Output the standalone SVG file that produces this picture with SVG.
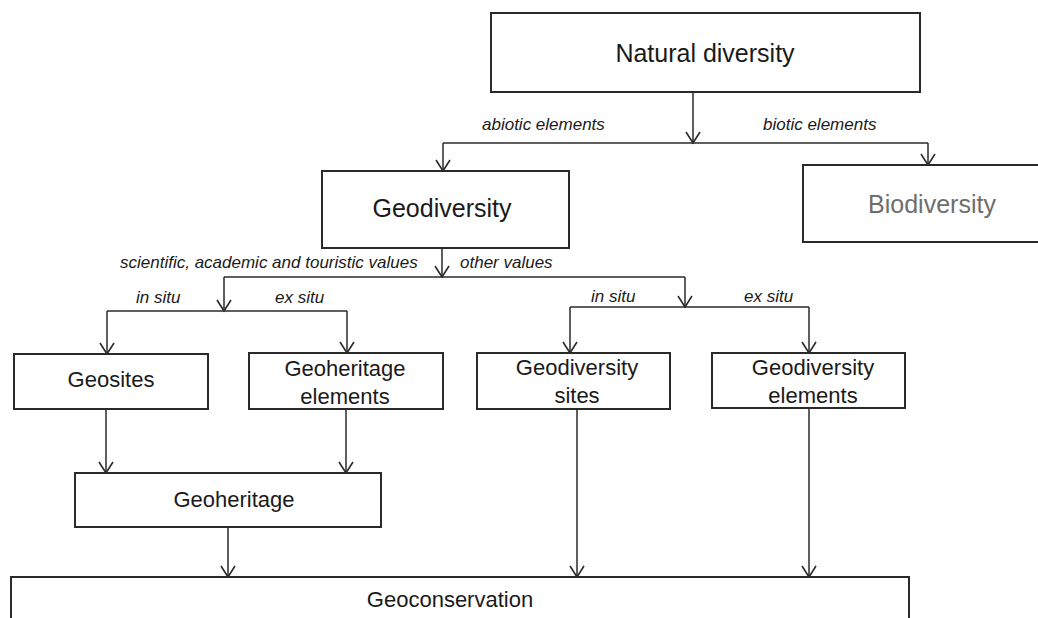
<svg xmlns="http://www.w3.org/2000/svg" width="1038" height="618" viewBox="0 0 1038 618">
<style>
.box{fill:#fff;stroke:#2a2a2a;stroke-width:2}
.t{font-family:"Liberation Sans",Arial,sans-serif;fill:#1a1a1a;text-anchor:middle}
.big{font-size:25px}
.sm{font-size:22px}
.lbl{font-family:"Liberation Sans",Arial,sans-serif;font-style:italic;font-size:17px;fill:#1a1a1a}
.c{fill:none;stroke:#2a2a2a;stroke-width:1.5}
</style>
<defs>
<marker id="ah" markerUnits="userSpaceOnUse" markerWidth="30" markerHeight="30" refX="0" refY="0" orient="auto" overflow="visible">
<path d="M-11,-7 L0,0 L-11,7" fill="none" stroke="#2a2a2a" stroke-width="1.6"/>
</marker>
</defs>
<rect width="1038" height="618" fill="#fff"/>
<g id="connectors">
<path class="c" d="M693,92 V143" marker-end="url(#ah)"/>
<path class="c" d="M443,143 H928"/>
<path class="c" d="M443,143 V171" marker-end="url(#ah)"/>
<path class="c" d="M928,143 V165" marker-end="url(#ah)"/>
<path class="c" d="M442,248 V277" marker-end="url(#ah)"/>
<path class="c" d="M224,277 H685"/>
<path class="c" d="M224,277 V311" marker-end="url(#ah)"/>
<path class="c" d="M107,311 H347"/>
<path class="c" d="M107,311 V354" marker-end="url(#ah)"/>
<path class="c" d="M347,311 V353" marker-end="url(#ah)"/>
<path class="c" d="M685,277 V307" marker-end="url(#ah)"/>
<path class="c" d="M570,307 H809"/>
<path class="c" d="M570,307 V353" marker-end="url(#ah)"/>
<path class="c" d="M809,307 V353" marker-end="url(#ah)"/>
<path class="c" d="M106,409 V473" marker-end="url(#ah)"/>
<path class="c" d="M346,409 V473" marker-end="url(#ah)"/>
<path class="c" d="M228,527 V577" marker-end="url(#ah)"/>
<path class="c" d="M577,409 V577" marker-end="url(#ah)"/>
<path class="c" d="M809,408 V577" marker-end="url(#ah)"/>
<text class="lbl" x="482" y="130">abiotic elements</text>
<text class="lbl" x="763" y="130">biotic elements</text>
<text class="lbl" x="120" y="268">scientific, academic and touristic values</text>
<text class="lbl" x="460" y="268">other values</text>
<text class="lbl" x="136" y="303">in situ</text>
<text class="lbl" x="275" y="303">ex situ</text>
<text class="lbl" x="591" y="302">in situ</text>
<text class="lbl" x="744" y="302">ex situ</text>
</g>
<g id="natural-diversity">
<rect class="box" x="491" y="13" width="429" height="79"/>
<text class="t big" x="705" y="62">Natural diversity</text>
</g>
<g id="geodiversity">
<rect class="box" x="322" y="171" width="247" height="77"/>
<text class="t big" x="442" y="217">Geodiversity</text>
</g>
<g id="biodiversity">
<rect class="box" x="803" y="165" width="245" height="77"/>
<text class="t big" x="932" y="213" style="fill:#6e6e6e">Biodiversity</text>
</g>
<g id="geosites">
<rect class="box" x="14" y="354" width="194" height="55"/>
<text class="t sm" x="111" y="387">Geosites</text>
</g>
<g id="geoheritage-elements">
<rect class="box" x="249" y="353" width="194" height="56"/>
<text class="t sm" x="345" y="376">Geoheritage</text>
<text class="t sm" x="345" y="404">elements</text>
</g>
<g id="geodiversity-sites">
<rect class="box" x="477" y="353" width="193" height="56"/>
<text class="t sm" x="577" y="375">Geodiversity</text>
<text class="t sm" x="577" y="403">sites</text>
</g>
<g id="geodiversity-elements">
<rect class="box" x="712" y="353" width="193" height="55"/>
<text class="t sm" x="813" y="375">Geodiversity</text>
<text class="t sm" x="813" y="403">elements</text>
</g>
<g id="geoheritage">
<rect class="box" x="75" y="473" width="306" height="54"/>
<text class="t sm" x="234" y="507">Geoheritage</text>
</g>
<g id="geoconservation">
<rect class="box" x="11" y="577" width="898" height="60"/>
<text class="t sm" x="450" y="607">Geoconservation</text>
</g>
</svg>
